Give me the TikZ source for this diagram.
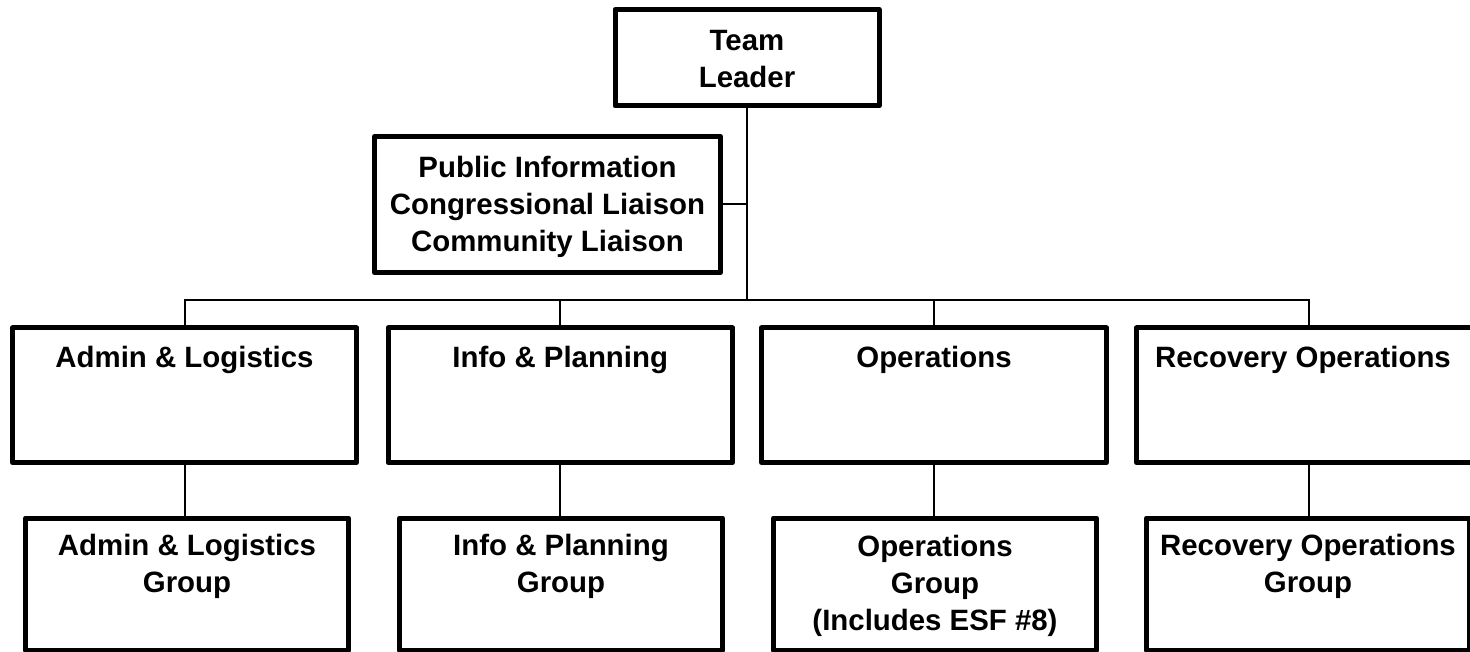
\documentclass[tikz,border=0pt]{standalone}
\usepackage{fontspec}
\setmainfont{Liberation Sans}
\begin{document}
\begin{tikzpicture}[x=1pt,y=-1pt,
  box/.style={draw, line width=5pt, line join=round, fill=white, inner sep=0pt},
  lbl/.style={anchor=base, align=center, inner sep=0pt,
    font=\fontsize{29.4}{37}\selectfont\bfseries},
  conn/.style={line width=2pt}]
\useasboundingbox (0,0) rectangle (1470,652);
% boxes
\node[box, minimum width=264pt, minimum height=96.5pt] (tl) at (747,57.75) {};
\node[box, minimum width=346pt, minimum height=136pt] (pub) at (547.5,204.5) {};
\node[box, minimum width=344pt, minimum height=134.5pt] (adm1) at (184.5,395.25) {};
\node[box, minimum width=344.5pt, minimum height=134.5pt] (inf1) at (560.25,395.25) {};
\node[box, minimum width=345pt, minimum height=134.5pt] (ops1) at (934,395.25) {};
\node[box, minimum width=345pt, minimum height=134.5pt] (rec1) at (1309,395.25) {};
\node[box, minimum width=323pt, minimum height=132pt] (adm2) at (187,584) {};
\node[box, minimum width=323pt, minimum height=132pt] (inf2) at (561,584) {};
\node[box, minimum width=323pt, minimum height=132pt] (ops2) at (935,584) {};
\node[box, minimum width=323pt, minimum height=132pt] (rec2) at (1308,584) {};
% labels (base anchor = baseline of the last line)
\node[lbl] (tlt) at (747,87.3) {Team\\Leader};
\node[lbl] (pubt) at (547.5,251.7) {Public Information\\Congressional Liaison\\Community Liaison};
\node[lbl] (adm1t) at (184.5,367) {Admin \& Logistics};
\node[lbl] (inf1t) at (560.25,367) {Info \& Planning};
\node[lbl] (ops1t) at (934,367) {Operations};
\node[lbl] (rec1t) at (1303,367) {Recovery Operations};
\node[lbl] (adm2t) at (187,592.7) {Admin \& Logistics\\Group};
\node[lbl] (inf2t) at (561,592.7) {Info \& Planning\\Group};
\node[lbl] (ops2t) at (935,630) {Operations\\Group\\(Includes ESF \#8)};
\node[lbl] (rec2t) at (1308,592.7) {Recovery Operations\\Group};
% connectors
\coordinate (bus) at (747,300.5);
\draw[conn] (tl.south) -- (tl.south |- bus);
\draw[conn] (pub.east) -- (pub.east -| tl.south);
\draw[conn] (adm1.north) -- (adm1.north |- bus) -- (rec1.north |- bus) -- (rec1.north);
\draw[conn] (inf1.north) -- (inf1.north |- bus);
\draw[conn] (ops1.north) -- (ops1.north |- bus);
\draw[conn] (adm1.south) -- (adm1.south |- adm2.north);
\draw[conn] (inf1.south) -- (inf1.south |- inf2.north);
\draw[conn] (ops1.south) -- (ops1.south |- ops2.north);
\draw[conn] (rec1.south) -- (rec1.south |- rec2.north);
\end{tikzpicture}
\end{document}
